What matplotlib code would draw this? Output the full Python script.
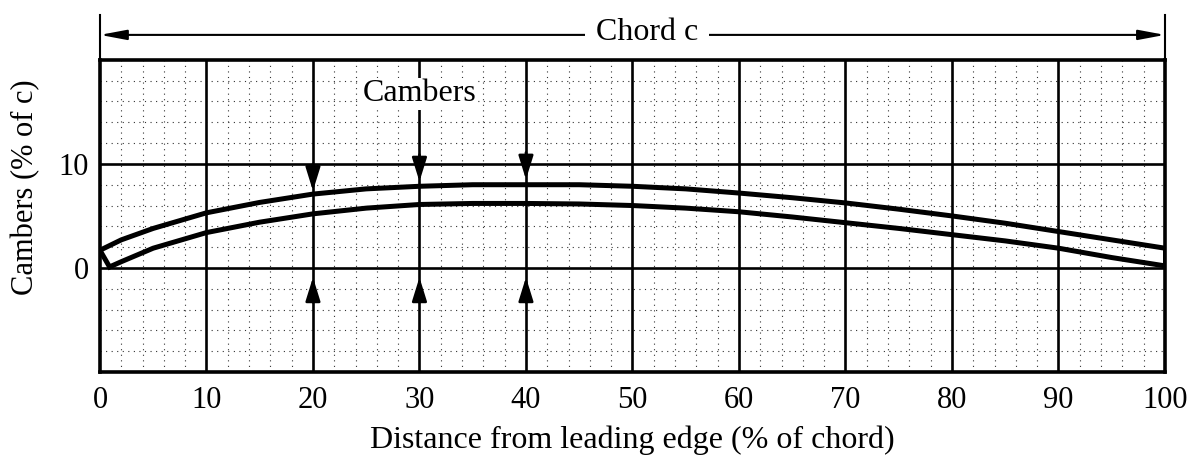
import matplotlib.pyplot as plt
from matplotlib.transforms import blended_transform_factory

# values
upper_x = [0, 2, 5, 10, 15, 20, 25, 30, 35, 40, 45, 50, 55, 60, 65, 70, 75, 80, 85, 90, 95, 100]
upper_y = [1.7, 2.7, 3.8, 5.3, 6.3, 7.1, 7.6, 7.85, 8.0, 8.0, 8.0, 7.85, 7.6, 7.2, 6.75, 6.25,
           5.65, 5.0, 4.3, 3.5, 2.7, 1.9]
lower_x = [0.9, 2, 5, 10, 15, 20, 25, 30, 35, 40, 45, 50, 55, 60, 65, 70, 75, 80, 85, 90, 95, 100]
lower_y = [0.1, 0.6, 1.9, 3.4, 4.4, 5.2, 5.75, 6.1, 6.2, 6.2, 6.15, 6.0, 5.75, 5.4, 4.9, 4.35,
           3.8, 3.2, 2.6, 1.9, 1.0, 0.2]

arrow_x = [20, 30, 40]
arrow_top_tip = [7.4, 8.3, 8.5]
arrow_bottom_tip = [-0.9, -0.9, -0.9]

x_ticks = [0, 10, 20, 30, 40, 50, 60, 70, 80, 90, 100]
y_ticks = [0, 10]

serif = ["Liberation Serif", "DejaVu Serif"]

fig = plt.figure(figsize=(12, 4.57), dpi=100)
ax = fig.add_axes([0.0833, 0.186, 0.8875, 0.683])
ax.set_xlim(0, 100)
ax.set_ylim(-10, 20)

# graph paper: light dotted minor grid, heavy major grid
for xv in range(0, 101, 2):
    if xv % 10:
        ax.axvline(xv, color="#333333", lw=0.8, ls=(0, (1, 4)), zorder=1)
for yv in range(-10, 21, 2):
    if yv % 10:
        ax.axhline(yv, color="#333333", lw=0.8, ls=(0, (1, 4)), zorder=1)
for xv in range(10, 100, 10):
    ax.axvline(xv, color="black", lw=1.9, zorder=2)
for yv in (0, 10):
    ax.axhline(yv, color="black", lw=1.9, zorder=2)

# camber curves and end caps
ax.plot(upper_x, upper_y, color="black", lw=3.6, zorder=4, solid_capstyle="round")
ax.plot(lower_x, lower_y, color="black", lw=3.6, zorder=4, solid_capstyle="round")
ax.plot([upper_x[0], lower_x[0]], [upper_y[0], lower_y[0]], color="black", lw=3.6, zorder=4)
ax.plot([upper_x[-1], lower_x[-1]], [upper_y[-1], lower_y[-1]], color="black", lw=3.6, zorder=4)

# camber arrows
head = "-|>,head_length=1.45,head_width=0.45"
for xv, tip in zip(arrow_x, arrow_top_tip):
    ax.annotate("", xy=(xv, tip), xytext=(xv, tip + 2.6),
                arrowprops=dict(arrowstyle=head, color="black", lw=1.9,
                                shrinkA=0, shrinkB=0), zorder=5)
for xv, tip in zip(arrow_x, arrow_bottom_tip):
    ax.annotate("", xy=(xv, tip), xytext=(xv, tip - 2.4),
                arrowprops=dict(arrowstyle=head, color="black", lw=1.9,
                                shrinkA=0, shrinkB=0), zorder=5)

ax.text(30, 16.0, "Cambers", family=serif, fontsize=23, ha="center", va="baseline", zorder=6,
        bbox=dict(facecolor="white", edgecolor="none", pad=1))

# chord dimension line above the plot
trans = blended_transform_factory(ax.transData, ax.transAxes)
ax.annotate("", xy=(0, 1.08), xytext=(100, 1.08), xycoords=trans, textcoords=trans,
            arrowprops=dict(arrowstyle="<|-|>,head_length=1.6,head_width=0.3",
                            color="black", lw=1.5, shrinkA=0, shrinkB=0))
for xv in (0, 100):
    ax.plot([xv, xv], [1.0, 1.144], transform=trans, color="black", lw=1.5, clip_on=False)
ax.text(51.4, 1.064, " Chord c ", transform=trans, family=serif, fontsize=23,
        ha="center", va="baseline", bbox=dict(facecolor="white", edgecolor="none", pad=2))

ax.set_xticks(x_ticks)
ax.set_yticks(y_ticks)
ax.tick_params(axis="x", length=0, pad=10, labelsize=22)
ax.tick_params(axis="y", length=0, pad=8, labelsize=22)
for lab in ax.get_xticklabels() + ax.get_yticklabels():
    lab.set_family(serif)
ax.set_xlabel("Distance from leading edge (% of chord)", family=serif, fontsize=23)
ax.set_ylabel("Cambers (% of c)", family=serif, fontsize=22)
ax.xaxis.set_label_coords(0.5, -0.17)
ax.yaxis.set_label_coords(-0.07, 0.593)
ax.xaxis.label.set_va("top")
ax.yaxis.label.set_va("center")
ax.yaxis.label.set_ha("center")

for sp in ax.spines.values():
    sp.set_linewidth(2.6)
    sp.set_zorder(6)

fig.savefig("out.png", dpi=100)
